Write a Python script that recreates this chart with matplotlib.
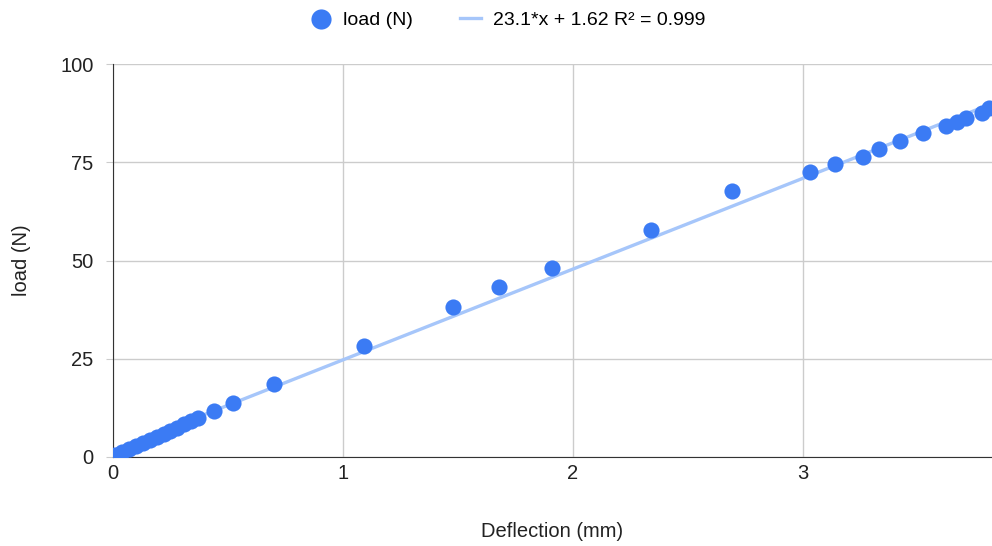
import matplotlib
matplotlib.use("Agg")
import matplotlib.pyplot as plt
import numpy as np

plt.rcParams['font.family'] = ['Liberation Sans', 'DejaVu Sans']

deflection = [0.01, 0.04, 0.07, 0.10, 0.13, 0.16, 0.19, 0.22, 0.25, 0.28, 0.31, 0.34, 0.37,
              0.44, 0.52, 0.70, 1.09, 1.48, 1.68, 1.91, 2.34, 2.69,
              3.03, 3.14, 3.26, 3.33, 3.42, 3.52, 3.62, 3.67, 3.71, 3.78, 3.81]
load = [0.5, 1.3, 2.0, 2.8, 3.6, 4.4, 5.2, 5.9, 6.7, 7.5, 8.3, 9.1, 9.8,
        11.7, 13.7, 18.6, 28.2, 38.2, 43.3, 48.1, 57.8, 67.7,
        72.5, 74.6, 76.4, 78.3, 80.4, 82.4, 84.3, 85.2, 86.2, 87.5, 88.8]

slope = 23.1
intercept = 1.62
r2 = 0.999
trend_label = f"{slope}*x + {intercept} R\u00b2 = {r2}"

x_ticks = [0, 1, 2, 3]
y_ticks = [0, 25, 50, 75, 100]

fig = plt.figure(figsize=(9.92, 5.46), dpi=100)
ax = fig.add_axes([113/992, 89/546, 879/992, 393/546])

blue = '#3b7bf4'
ax.scatter(deflection, load, s=135, color=blue, zorder=3, label='load (N)', linewidths=0)
xs = np.array([0, 3.822])
ax.plot(xs, slope * xs + intercept, color='#a6c6fa', lw=2.4, zorder=2, label=trend_label)

ax.set_xlim(0, 3.822)
ax.set_ylim(0, 100)
ax.set_xticks(x_ticks)
ax.set_yticks(y_ticks)
ax.grid(True, color='#cccccc', lw=1)
ax.set_axisbelow(True)
for s in ['top', 'right']:
    ax.spines[s].set_visible(False)
ax.spines['left'].set_color('#333333')
ax.spines['bottom'].set_color('#333333')
ax.tick_params(axis='y', length=5, color='#cccccc', labelsize=14.5, labelcolor='#222222', pad=9)
ax.tick_params(axis='x', length=0, labelsize=14.5, labelcolor='#222222', pad=5)
ax.set_xlabel('Deflection (mm)', fontsize=14.5, color='#222222', labelpad=28)
ax.set_ylabel('load (N)', fontsize=14.5, color='#222222', labelpad=21)

fig.legend(loc='upper center', bbox_to_anchor=(0.512, 1.012), ncol=2, frameon=False,
           fontsize=14, handlelength=1.1, columnspacing=2.4, handletextpad=0.6,
           markerscale=1.25)

fig.savefig('out.png', dpi=100)
